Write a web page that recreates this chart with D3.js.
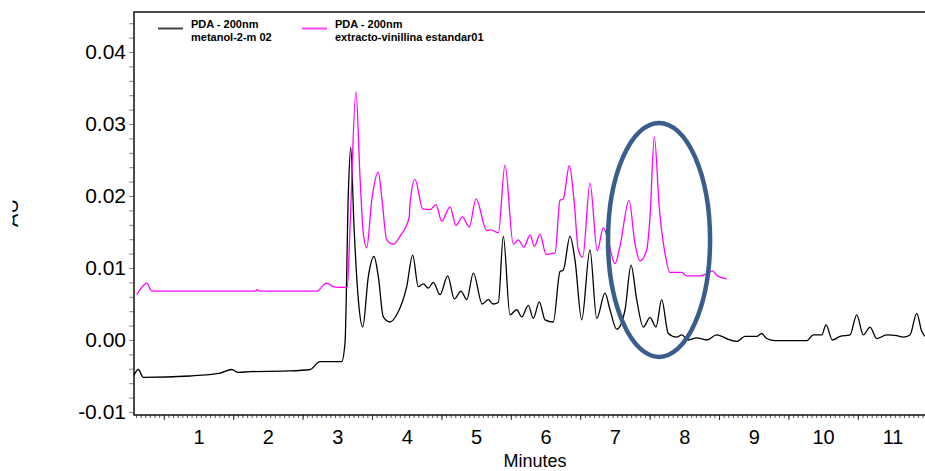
<!DOCTYPE html>
<html>
<head>
<meta charset="utf-8">
<script src="https://cdn.jsdelivr.net/npm/d3@7"></script>
<style>
  body { margin: 0; background: #fff; }
  svg { display: block; font-family: Arial, "Liberation Sans", sans-serif; }
</style>
</head>
<body>
<div id="chart"></div>
<script>
// [minutes, AU]
const metanolTrace = [
    [0.07, -0.0049], [0.133, -0.0041], [0.205, -0.0052], [0.878, -0.0050], [1.31, -0.0046],
    [1.478, -0.0041], [1.573, -0.0045], [1.742, -0.0044], [2.318, -0.0043], [2.607, -0.0041],
    [2.751, -0.0030], [3.063, -0.0030], [3.111, -0.0004], [3.159, 0.0204], [3.193, 0.0268],
    [3.241, 0.0157], [3.303, 0.0056], [3.366, 0.0018], [3.447, 0.0088], [3.529, 0.0116],
    [3.591, 0.0088], [3.663, 0.0032], [3.759, 0.0025], [3.856, 0.0035], [4.0, 0.0074],
    [4.086, 0.0118], [4.167, 0.0074], [4.239, 0.0078], [4.311, 0.0072], [4.383, 0.0080],
    [4.48, 0.0063], [4.591, 0.0089], [4.686, 0.0057], [4.782, 0.0068], [4.865, 0.0056],
    [4.960, 0.0093], [5.089, 0.0050], [5.176, 0.0056], [5.244, 0.0050], [5.320, 0.0052],
    [5.392, 0.0144], [5.488, 0.0035], [5.585, 0.0042], [5.657, 0.0032], [5.752, 0.0048],
    [5.824, 0.0030], [5.911, 0.0053], [5.993, 0.0028], [6.112, 0.0025], [6.209, 0.0095],
    [6.256, 0.0097], [6.353, 0.0144], [6.425, 0.0111], [6.522, 0.0028], [6.640, 0.0125],
    [6.738, 0.0030], [6.857, 0.0065], [6.929, 0.0042], [7.026, 0.0015], [7.146, 0.0042],
    [7.232, 0.0104], [7.314, 0.0056], [7.409, 0.0018], [7.506, 0.0031], [7.592, 0.0018],
    [7.674, 0.0056], [7.769, 0.0009], [7.890, 0.0004], [7.963, 0.0007], [8.058, 0.0000],
    [8.179, 0.0003], [8.323, 0.0000], [8.467, 0.0007], [8.539, 0.0005], [8.634, 0.0001],
    [8.755, -0.0002], [8.875, 0.0005], [9.043, 0.0005], [9.115, 0.0009], [9.187, 0.0002],
    [9.307, -0.0001], [9.764, -0.0001], [9.859, 0.0007], [9.980, 0.0007], [10.042, 0.0021],
    [10.133, 0.0000], [10.244, 0.0005], [10.388, 0.0007], [10.484, 0.0035], [10.579, 0.0007],
    [10.676, 0.0018], [10.772, 0.0002], [10.916, 0.0007], [11.061, 0.0006], [11.156, 0.0004],
    [11.252, 0.0007], [11.349, 0.0037], [11.421, 0.0012], [11.468, 0.0005]
];

const extractoTrace = [
    [0.11, 0.0063], [0.182, 0.0073], [0.254, 0.0079], [0.326, 0.0068], [1.814, 0.0068],
    [1.847, 0.0070], [1.879, 0.0068], [2.703, 0.0068], [2.847, 0.0079], [2.942, 0.0074],
    [3.014, 0.0073], [3.144, 0.0073], [3.183, 0.0157], [3.269, 0.0345], [3.327, 0.0227],
    [3.375, 0.0148], [3.424, 0.0128], [3.496, 0.0194], [3.591, 0.0233], [3.644, 0.0195],
    [3.712, 0.0139], [3.807, 0.0133], [3.903, 0.0144], [4.037, 0.0171], [4.048, 0.0190],
    [4.120, 0.0223], [4.231, 0.0182], [4.336, 0.0181], [4.422, 0.0188], [4.504, 0.0165],
    [4.624, 0.0185], [4.710, 0.0159], [4.801, 0.0171], [4.902, 0.0157], [4.999, 0.0196],
    [5.153, 0.0152], [5.210, 0.0153], [5.320, 0.0149], [5.416, 0.0243], [5.536, 0.0133],
    [5.608, 0.0139], [5.690, 0.0129], [5.777, 0.0146], [5.839, 0.0130], [5.921, 0.0147],
    [6.007, 0.0119], [6.137, 0.0121], [6.209, 0.0194], [6.256, 0.0196], [6.343, 0.0242],
    [6.411, 0.0194], [6.473, 0.0125], [6.536, 0.0115], [6.641, 0.0218], [6.746, 0.0124],
    [6.833, 0.0156], [6.890, 0.0143], [7.001, 0.0106], [7.073, 0.0130], [7.203, 0.0194],
    [7.290, 0.0133], [7.362, 0.0110], [7.458, 0.0125], [7.505, 0.0170], [7.568, 0.0282],
    [7.640, 0.0183], [7.722, 0.0120], [7.794, 0.0094], [7.963, 0.0094], [8.035, 0.0089],
    [8.226, 0.0089], [8.323, 0.0092], [8.409, 0.0096], [8.467, 0.0090], [8.611, 0.0085]
];

const seriesNames = [
    ["PDA - 200nm", "metanol-2-m 02"],
    ["PDA - 200nm", "extracto-vinillina estandar01"]
];
const seriesColors = ["#000000", "#ff00ff"];

const xTickLabels = [1, 2, 3, 4, 5, 6, 7, 8, 9, 10, 11];
const yTickLabels = [-0.01, 0.00, 0.01, 0.02, 0.03, 0.04];

// highlighted region: [centre minutes, centre AU, half-width minutes, half-height AU]
const highlight = [7.636, 0.0139, 0.735, 0.01625];

const width = 925, height = 471;
const plot = { left: 134, right: 925, top: 12, bottom: 415 };

const svg = d3.select("#chart")
    .append("svg")
    .attr("width", width)
    .attr("height", height);

svg.append("rect").attr("width", width).attr("height", height).attr("fill", "#fff");

const x = d3.scaleLinear()
    .domain([0.0706, 11.468])
    .range([plot.left, plot.right]);

const y = d3.scaleLinear()
    .domain([-0.01042, 0.04556])
    .range([plot.bottom, plot.top]);

// y axis: minor ticks every 0.002, labels every 0.01
const yMinor = d3.range(-5, 23).map(i => i / 500);
svg.append("g")
    .attr("transform", `translate(${plot.left},0)`)
    .call(d3.axisLeft(y).tickValues(yMinor).tickSize(5).tickFormat(""))
    .call(g => g.select(".domain").remove())
    .call(g => g.selectAll("line").attr("stroke", "#888"));

svg.append("g")
    .attr("transform", `translate(${plot.left},0)`)
    .call(d3.axisLeft(y).tickValues(yTickLabels).tickSize(0).tickPadding(8)
        .tickFormat(d => d.toFixed(2)))
    .call(g => g.select(".domain").remove())
    .call(g => g.selectAll("text")
        .attr("font-size", "21px")
        .attr("font-family", "Arial, 'Liberation Sans', sans-serif")
        .attr("fill", "#000"));

// x axis: short ticks, longer ones on the half minutes
const xMinor = d3.range(-6, 166).map(k => 0.5 + k / 15).filter(v => v > 0.08 && v < 11.46);
const xHalf = d3.range(0, 11).map(k => 0.5 + k);
svg.append("g")
    .attr("transform", `translate(0,${plot.bottom})`)
    .call(d3.axisBottom(x).tickValues(xMinor).tickSize(3).tickFormat(""))
    .call(g => g.select(".domain").remove())
    .call(g => g.selectAll("line").attr("stroke", "#555"));

svg.append("g")
    .attr("transform", `translate(0,${plot.bottom})`)
    .call(d3.axisBottom(x).tickValues(xHalf).tickSize(5).tickFormat(""))
    .call(g => g.select(".domain").remove())
    .call(g => g.selectAll("line").attr("stroke", "#333"));

svg.append("g")
    .attr("transform", `translate(0,${plot.bottom})`)
    .call(d3.axisBottom(x).tickValues(xTickLabels).tickSize(0).tickPadding(15))
    .call(g => g.select(".domain").remove())
    .call(g => g.selectAll("text")
        .attr("font-size", "20px")
        .attr("font-family", "Arial, 'Liberation Sans', sans-serif")
        .attr("fill", "#000"));

// frame: left, bottom and top lines
svg.append("path")
    .attr("d", `M${plot.right},${plot.top}H${plot.left}V${plot.bottom}H${plot.right}`)
    .attr("fill", "none")
    .attr("stroke", "#111")
    .attr("stroke-width", 1.5);

// axis titles
svg.append("text")
    .attr("x", 535)
    .attr("y", 467)
    .attr("text-anchor", "middle")
    .attr("font-size", "18px")
    .text("Minutes");

// the AU title is mostly cut off at the left edge
svg.append("clipPath")
    .attr("id", "au-clip")
    .append("rect")
    .attr("x", 12.5).attr("y", 180).attr("width", 10).attr("height", 60);

svg.append("g")
    .attr("clip-path", "url(#au-clip)")
    .append("text")
    .attr("transform", "translate(17.5,213) rotate(-90)")
    .attr("text-anchor", "middle")
    .attr("font-size", "20px")
    .text("AU");

// traces
const line = d3.line()
    .x(d => x(d[0]))
    .y(d => y(d[1]))
    .curve(d3.curveMonotoneX);

[metanolTrace, extractoTrace].forEach((trace, i) => {
    svg.append("path")
        .attr("d", line(trace))
        .attr("fill", "none")
        .attr("stroke", seriesColors[i])
        .attr("stroke-width", 1.3)
        .attr("stroke-linejoin", "round");
});

// highlight ellipse
const [hx, hy, hw, hh] = highlight;
svg.append("ellipse")
    .attr("cx", x(hx))
    .attr("cy", y(hy))
    .attr("rx", x(hx + hw) - x(hx))
    .attr("ry", y(hy - hh) - y(hy))
    .attr("fill", "none")
    .attr("stroke", "#3a5e8c")
    .attr("stroke-width", 4.5);

// legend
const legendPos = [158, 302];
seriesNames.forEach((names, i) => {
    const g = svg.append("g")
        .attr("transform", `translate(${legendPos[i]},0)`);

    g.append("line")
        .attr("x1", 0).attr("x2", 25)
        .attr("y1", 28.5).attr("y2", 28.5)
        .attr("stroke", i === 0 ? "#444" : "#ff44ff")
        .attr("stroke-width", 2);

    names.forEach((t, j) => {
        g.append("text")
            .attr("x", 33)
            .attr("y", 27.5 + j * 13.5)
            .attr("font-size", "11px")
            .attr("font-weight", "bold")
            .text(t);
    });
});
</script>
</body>
</html>
